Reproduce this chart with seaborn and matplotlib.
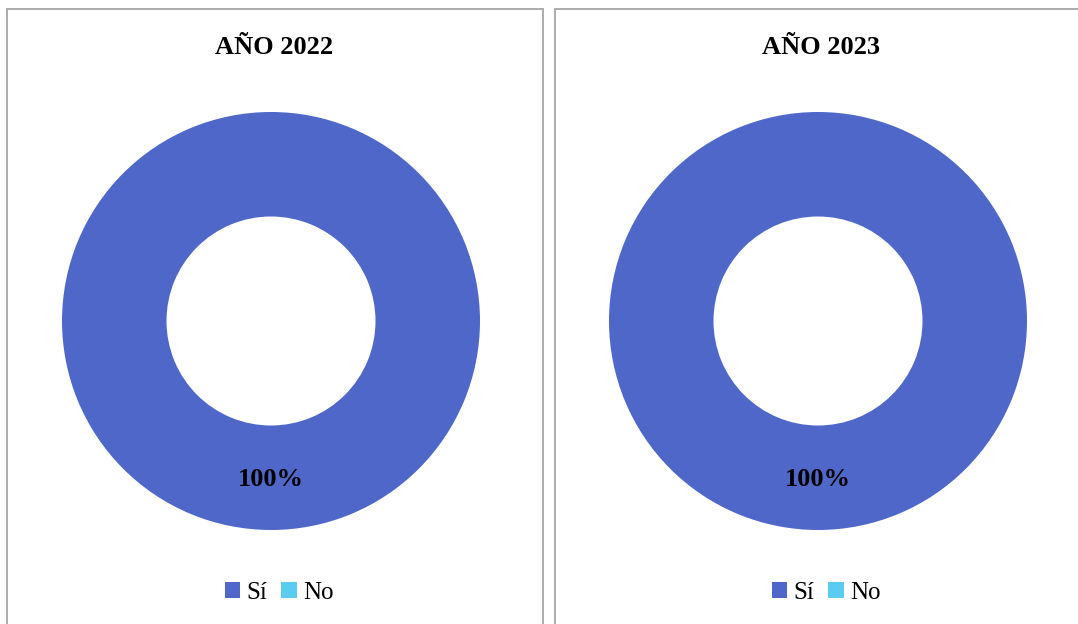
import numpy as np
import pandas as pd
import seaborn as sns
import matplotlib.pyplot as plt
from matplotlib.patches import Rectangle, Patch

# data
years = ["AÑO 2022", "AÑO 2023"]
answers = ["Sí", "No"]
values_2022 = [100, 0]
values_2023 = [100, 0]
colors = ["#4F67C8", "#5BCBF0"]

sns.set_theme(style="white")
plt.rcParams["font.family"] = ["Liberation Serif", "DejaVu Serif"]
plt.rcParams["text.color"] = "black"

W, H = 1078, 624
fig = plt.figure(figsize=(W / 100, H / 100), dpi=100)
fig.patch.set_facecolor("white")


def px_box(x0, y0, x1, y1):
    # pixel box (top-left origin) -> figure fraction
    return [x0 / W, 1 - y1 / H, (x1 - x0) / W, (y1 - y0) / H]


def pct_label(p):
    return "" if p < 0.5 else "{:.0f}%".format(p)


# panel frames
for x0, x1 in [(7, 543), (555, 1090)]:
    fig.patches.append(Rectangle((x0 / W, -0.05), (x1 - x0) / W, 1 - 8.5 / H + 0.05,
                                 transform=fig.transFigure, fill=False,
                                 edgecolor="#A6A6A6", linewidth=1.3))

centers = [271, 818]
r_out = 209
for cx, title, vals in zip(centers, years, [values_2022, values_2023]):
    ax = fig.add_axes(px_box(cx - r_out, 321 - r_out, cx + r_out, 321 + r_out))
    wedges, texts, autotexts = ax.pie(vals, colors=colors, startangle=90, counterclock=False,
                                      radius=1, autopct=pct_label, pctdistance=0.76,
                                      wedgeprops=dict(width=0.5, linewidth=0),
                                      textprops=dict(fontsize=19, fontweight="bold", color="black"))
    ax.set_xlim(-1, 1)
    ax.set_ylim(-1, 1)
    ax.set_aspect("equal")
    ax.axis("off")
    fig.text((cx + 3) / W, 1 - 47 / H, title, ha="center", va="center",
             fontsize=19, fontweight="bold", color="black")
    handles = [Patch(facecolor=c, edgecolor="none") for c in colors]
    leg = fig.legend(handles, answers, loc="center", bbox_to_anchor=((cx + 8) / W, 1 - 593 / H),
                     ncol=2, frameon=False, fontsize=18, handlelength=0.62, handleheight=0.62,
                     handletextpad=0.25, columnspacing=0.55)
    for t in leg.get_texts():
        t.set_color("black")

plt.savefig("out.png", dpi=100)
